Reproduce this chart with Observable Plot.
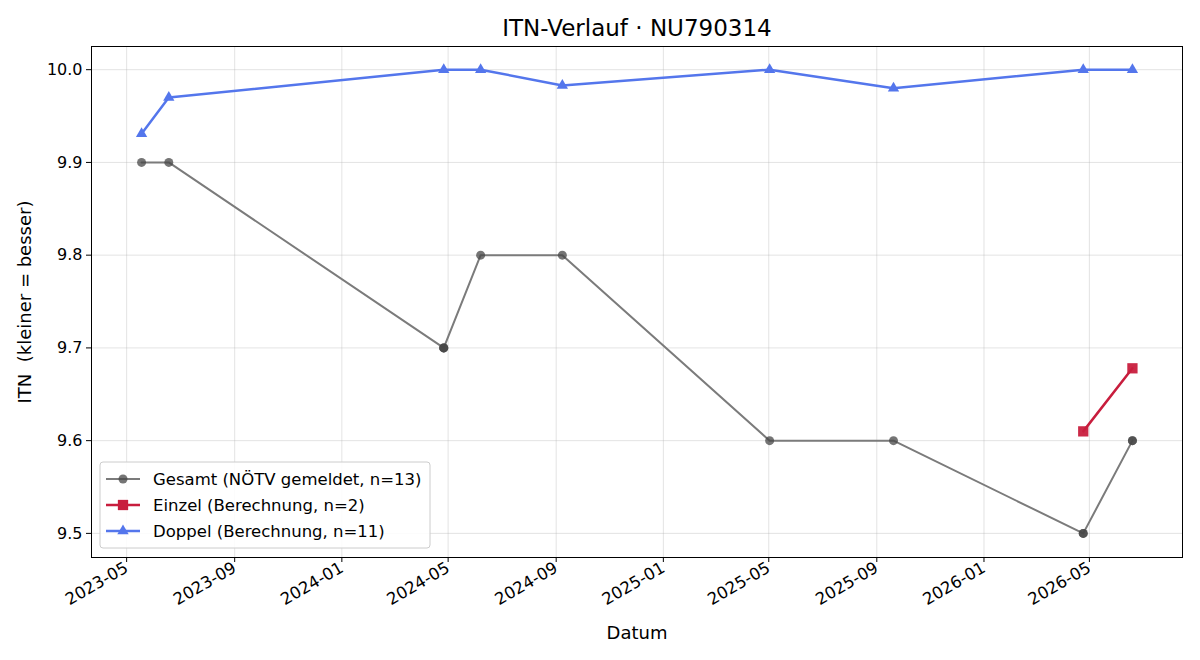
<!DOCTYPE html>
<html>
<head>
<meta charset="utf-8">
<script src="https://cdn.jsdelivr.net/npm/d3@7"></script>
<script src="https://cdn.jsdelivr.net/npm/@observablehq/plot@0.6"></script>
<style>
  html, body { margin: 0; padding: 0; background: #fff; }
  #chart { width: 1200px; height: 660px; }
  svg { font-family: "DejaVu Sans", sans-serif; }
</style>
</head>
<body>
<div id="chart"></div>
<script>
// ITN history for player NU790314
const titleText = "ITN-Verlauf · NU790314";

// Overall ITN as reported (repeated dates are separate reports)
const gesamtDates = ["2023-05-18", "2023-06-18", "2024-04-26", "2024-04-26", "2024-06-07", "2024-09-08",
                     "2025-05-02", "2025-09-20", "2026-04-24", "2026-04-24", "2026-06-19", "2026-06-19", "2024-04-26"];
const gesamtValues = [9.9, 9.9, 9.7, 9.7, 9.8, 9.8, 9.6, 9.6, 9.5, 9.5, 9.6, 9.6, 9.7];

// Singles ITN (computed)
const einzelDates = ["2026-04-24", "2026-06-19"];
const einzelValues = [9.61, 9.678];

// Doubles ITN (computed)
const doppelDates = ["2023-05-18", "2023-06-18", "2024-04-26", "2024-06-07", "2024-09-08",
                     "2025-05-02", "2025-09-20", "2026-04-24", "2026-06-19"];
const doppelValues = [9.931, 9.97, 10.0, 10.0, 9.983, 10.0, 9.98, 10.0, 10.0];

const yTicks = [9.5, 9.6, 9.7, 9.8, 9.9, 10.0];

const legendLabels = ["Gesamt (NÖTV gemeldet, n=13)", "Einzel (Berechnung, n=2)", "Doppel (Berechnung, n=11)"];

const parse = d3.utcParse("%Y-%m-%d");
const toRows = (dates, values) => dates.map((d, i) => ({date: parse(d), itn: values[i]}));
const gesamt = toRows(gesamtDates, gesamtValues);
const gesamtLine = gesamt.slice().sort((a, b) => a.date - b.date)
  .filter((d, i, arr) => i === 0 || +d.date !== +arr[i - 1].date);
const einzel = toRows(einzelDates, einzelValues);
const doppel = toRows(doppelDates, doppelValues);

const cGesamtLine = "#7b7b7b", cGesamtDot = "#474747";
const cEinzel = "#c81d3d";
const cDoppel = "#5476ec";

const xTicks = d3.utcMonth.every(4).range(parse("2023-04-01"), parse("2026-08-01"));

const chart = Plot.plot({
  width: 1200,
  height: 660,
  marginLeft: 91,
  marginRight: 18,
  marginTop: 46,
  marginBottom: 103,
  style: {fontFamily: "DejaVu Sans, sans-serif", color: "#000"},
  x: {type: "utc", domain: [parse("2023-03-22"), parse("2026-08-15")]},
  y: {domain: [9.474, 10.025]},
  marks: [
    Plot.gridX(xTicks, {stroke: "#b0b0b0", strokeOpacity: 0.35}),
    Plot.gridY(yTicks, {stroke: "#b0b0b0", strokeOpacity: 0.35}),
    Plot.axisX(xTicks, {tickFormat: d3.utcFormat("%Y-%m"), tickRotate: -30, tickSize: 5, tickPadding: 4,
                        label: null, stroke: "#000"}),
    Plot.axisY(yTicks, {tickFormat: ".1f", tickSize: 5, tickPadding: 4, label: null}),
    Plot.line(gesamtLine, {x: "date", y: "itn", stroke: cGesamtLine, strokeWidth: 2}),
    Plot.dot(gesamt, {x: "date", y: "itn", r: 4.5, fill: cGesamtDot, fillOpacity: 0.75, stroke: "none"}),
    Plot.line(einzel, {x: "date", y: "itn", stroke: cEinzel, strokeWidth: 2.5}),
    Plot.dot(einzel, {x: "date", y: "itn", symbol: "square", r: 5.8, fill: cEinzel, fillOpacity: 0.95, stroke: "none"}),
    Plot.line(doppel, {x: "date", y: "itn", stroke: cDoppel, strokeWidth: 2.5}),
    Plot.dot(doppel, {x: "date", y: "itn", symbol: "triangle", r: 4.2, fill: cDoppel, stroke: "none"}),
    Plot.frame({stroke: "#000", strokeWidth: 1}),
    Plot.text([titleText], {frameAnchor: "top", dy: -18, fontSize: 23, fill: "#000", lineAnchor: "middle"}),
    Plot.text(["Datum"], {frameAnchor: "bottom", dy: 76, fontSize: 18, fill: "#000", lineAnchor: "middle"}),
    Plot.text(["ITN  (kleiner = besser)"], {frameAnchor: "left", dx: -66, rotate: -90, fontSize: 18,
                                           fill: "#000", lineAnchor: "middle", textAnchor: "middle"})
  ]
});

// Tick labels: set the size inline on every label
d3.select(chart).selectAll('g[aria-label="x-axis tick label"] text').style("font-size", "16.5px");
d3.select(chart).selectAll('g[aria-label="y-axis tick label"] text').style("font-size", "16px");

// Legend box in the lower-left corner of the plotting area
const svg = d3.select(chart);
const lg = svg.append("g").attr("transform", "translate(100,462)").attr("text-anchor", "start");
lg.append("rect").attr("width", 330).attr("height", 86).attr("rx", 3)
  .attr("fill", "#fff").attr("fill-opacity", 0.85).attr("stroke", "#cccccc");
const entries = [
  {label: legendLabels[0], line: cGesamtLine, dot: cGesamtDot, sym: d3.symbolCircle, size: 64, w: 2},
  {label: legendLabels[1], line: cEinzel, dot: cEinzel, sym: d3.symbolSquare, size: 106, w: 2.5},
  {label: legendLabels[2], line: cDoppel, dot: cDoppel, sym: d3.symbolTriangle, size: 56, w: 2.5}
];
entries.forEach((e, i) => {
  const y = 17 + i * 26;
  lg.append("line").attr("x1", 6).attr("x2", 40).attr("y1", y).attr("y2", y)
    .attr("stroke", e.line).attr("stroke-width", e.w);
  lg.append("path").attr("d", d3.symbol(e.sym, e.size)()).attr("transform", `translate(23,${y})`)
    .attr("fill", e.dot).attr("fill-opacity", i === 0 ? 0.75 : 1);
  lg.append("text").attr("x", 53).attr("y", y).attr("dy", "0.35em")
    .style("font-size", "16.5px").attr("fill", "#000").text(e.label);
});

document.getElementById("chart").appendChild(chart);
</script>
</body>
</html>
